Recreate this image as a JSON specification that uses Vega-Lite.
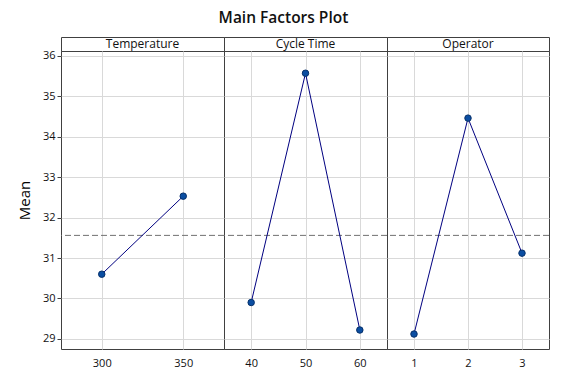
{
  "$schema": "https://vega.github.io/schema/vega-lite/v6.json",
  "padding": {"left": 16, "top": 11, "right": 5, "bottom": 5},
  "background": "white",
  "columns": 3,
  "spacing": 0,
  "bounds": "flush",
  "align": "each",
  "title": {"text": "Main Factors Plot", "fontSize": 15.5, "fontWeight": 600, "font": "Open Sans", "color": "#111111", "anchor": "middle", "offset": 10, "dx": 0},
  "datasets": {
    "means": [
      {"factor": "Temperature", "level": "300", "mean": 30.6},
      {"factor": "Temperature", "level": "350", "mean": 32.53},
      {"factor": "Cycle Time", "level": "40", "mean": 29.9},
      {"factor": "Cycle Time", "level": "50", "mean": 35.57},
      {"factor": "Cycle Time", "level": "60", "mean": 29.22},
      {"factor": "Operator", "level": "1", "mean": 29.12},
      {"factor": "Operator", "level": "2", "mean": 34.46},
      {"factor": "Operator", "level": "3", "mean": 31.12}
    ],
    "grand": [{"overall": 31.56}],
    "strips": [{"f": "Temperature"}, {"f": "Cycle Time"}, {"f": "Operator"}]
  },
  "config": {
    "font": "Open Sans",
    "view": {"stroke": "#404040", "strokeWidth": 1},
    "axis": {"domain": false, "gridColor": "#d9d9d9", "gridWidth": 1, "labelFont": "Open Sans", "labelFontSize": 11, "labelColor": "#111111", "tickColor": "#404040", "titleFont": "Open Sans", "titleFontWeight": "normal"}
  },
  "concat": [
    {
      "width": 163, "height": 14,
      "data": {"name": "strips"},
      "transform": [{"filter": "datum.f === 'Temperature'"}],
      "mark": {"type": "text", "fontSize": 12, "color": "#111111", "baseline": "middle"},
      "encoding": {"x": {"field": "f", "type": "nominal", "axis": null}, "text": {"field": "f"}}
    },
    {
      "width": 163, "height": 14,
      "data": {"name": "strips"},
      "transform": [{"filter": "datum.f === 'Cycle Time'"}],
      "mark": {"type": "text", "fontSize": 12, "color": "#111111", "baseline": "middle"},
      "encoding": {"x": {"field": "f", "type": "nominal", "axis": null}, "text": {"field": "f"}}
    },
    {
      "width": 162, "height": 14,
      "data": {"name": "strips"},
      "transform": [{"filter": "datum.f === 'Operator'"}],
      "mark": {"type": "text", "fontSize": 12, "color": "#111111", "baseline": "middle"},
      "encoding": {"x": {"field": "f", "type": "nominal", "axis": null}, "text": {"field": "f"}}
    },
    {
      "width": 163, "height": 298,
      "layer": [
        {
          "data": {"name": "grand"},
          "mark": {"type": "rule", "color": "#707070", "strokeDash": [6, 3], "strokeWidth": 1},
          "encoding": {"y": {"field": "overall", "type": "quantitative", "scale": {"domain": [28.75, 36.12], "nice": false, "zero": false}}}
        },
        {
          "data": {"name": "means"},
          "transform": [{"filter": "datum.factor === 'Temperature'"}],
          "mark": {"type": "line", "color": "#000080", "strokeWidth": 1},
          "encoding": {
            "x": {"field": "level", "type": "ordinal", "scale": {"type": "point", "padding": 0.5}, "axis": {"title": null, "labelAngle": 0, "ticks": false, "grid": true, "labelPadding": 8}},
            "y": {"field": "mean", "type": "quantitative", "scale": {"domain": [28.75, 36.12], "nice": false, "zero": false}, "axis": {"title": "Mean", "titleFontSize": 15, "values": [29, 30, 31, 32, 33, 34, 35, 36], "tickSize": 4, "titlePadding": 10}}
          }
        },
        {
          "data": {"name": "means"},
          "transform": [{"filter": "datum.factor === 'Temperature'"}],
          "mark": {"type": "point", "filled": true, "fill": "#0b4ea2", "stroke": "#06306a", "strokeWidth": 1, "size": 42, "opacity": 1},
          "encoding": {
            "x": {"field": "level", "type": "ordinal"},
            "y": {"field": "mean", "type": "quantitative"}
          }
        }
      ]
    },
    {
      "width": 163, "height": 298,
      "layer": [
        {
          "data": {"name": "grand"},
          "mark": {"type": "rule", "color": "#707070", "strokeDash": [6, 3], "strokeWidth": 1},
          "encoding": {"y": {"field": "overall", "type": "quantitative", "scale": {"domain": [28.75, 36.12], "nice": false, "zero": false}}}
        },
        {
          "data": {"name": "means"},
          "transform": [{"filter": "datum.factor === 'Cycle Time'"}],
          "mark": {"type": "line", "color": "#000080", "strokeWidth": 1},
          "encoding": {
            "x": {"field": "level", "type": "ordinal", "scale": {"type": "point", "padding": 0.5}, "axis": {"title": null, "labelAngle": 0, "ticks": false, "grid": true, "labelPadding": 8}},
            "y": {"field": "mean", "type": "quantitative", "scale": {"domain": [28.75, 36.12], "nice": false, "zero": false}, "axis": {"title": null, "labels": false, "ticks": false, "values": [29, 30, 31, 32, 33, 34, 35, 36]}}
          }
        },
        {
          "data": {"name": "means"},
          "transform": [{"filter": "datum.factor === 'Cycle Time'"}],
          "mark": {"type": "point", "filled": true, "fill": "#0b4ea2", "stroke": "#06306a", "strokeWidth": 1, "size": 42, "opacity": 1},
          "encoding": {
            "x": {"field": "level", "type": "ordinal"},
            "y": {"field": "mean", "type": "quantitative"}
          }
        }
      ]
    },
    {
      "width": 162, "height": 298,
      "layer": [
        {
          "data": {"name": "grand"},
          "mark": {"type": "rule", "color": "#707070", "strokeDash": [6, 3], "strokeWidth": 1},
          "encoding": {"y": {"field": "overall", "type": "quantitative", "scale": {"domain": [28.75, 36.12], "nice": false, "zero": false}}}
        },
        {
          "data": {"name": "means"},
          "transform": [{"filter": "datum.factor === 'Operator'"}],
          "mark": {"type": "line", "color": "#000080", "strokeWidth": 1},
          "encoding": {
            "x": {"field": "level", "type": "ordinal", "scale": {"type": "point", "padding": 0.5}, "axis": {"title": null, "labelAngle": 0, "ticks": false, "grid": true, "labelPadding": 8}},
            "y": {"field": "mean", "type": "quantitative", "scale": {"domain": [28.75, 36.12], "nice": false, "zero": false}, "axis": {"title": null, "labels": false, "ticks": false, "values": [29, 30, 31, 32, 33, 34, 35, 36]}}
          }
        },
        {
          "data": {"name": "means"},
          "transform": [{"filter": "datum.factor === 'Operator'"}],
          "mark": {"type": "point", "filled": true, "fill": "#0b4ea2", "stroke": "#06306a", "strokeWidth": 1, "size": 42, "opacity": 1},
          "encoding": {
            "x": {"field": "level", "type": "ordinal"},
            "y": {"field": "mean", "type": "quantitative"}
          }
        }
      ]
    }
  ]
}
